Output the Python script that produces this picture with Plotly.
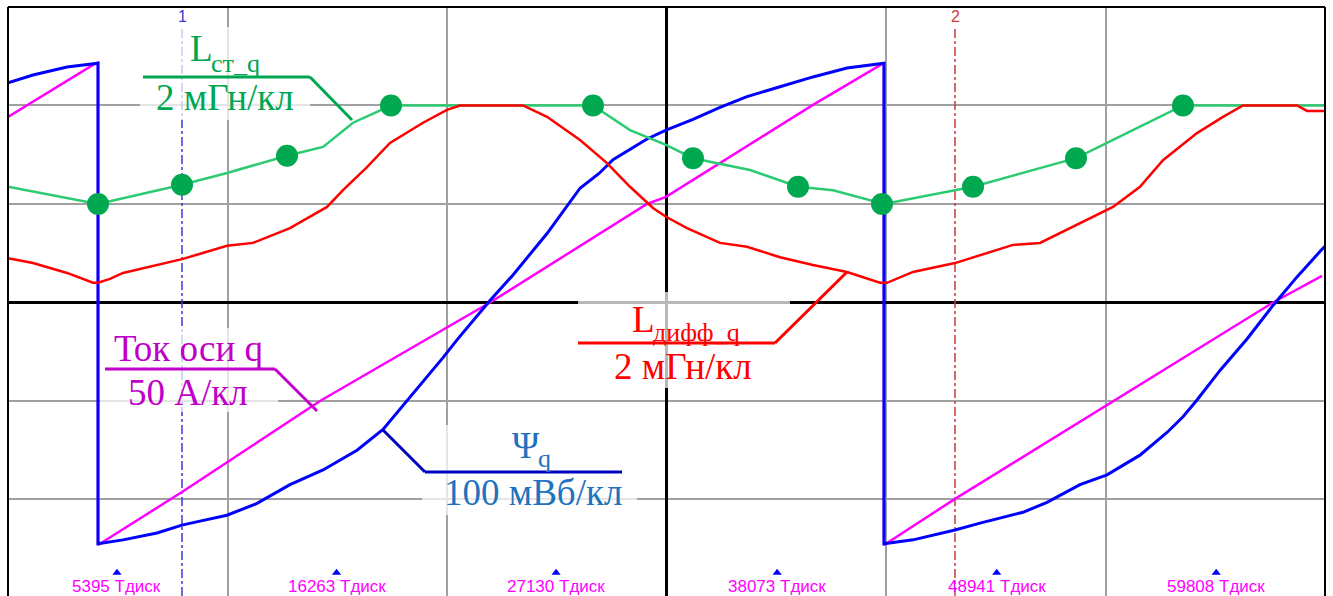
import plotly.graph_objects as go

# ---- time base: discretisation steps (Тдиск) ----
T_START, T_END = 0, 65192
DIVISIONS = 6

# ---- Ψq, flux linkage of axis q, mWb (100 мВб per division) ----
psi_t = [0, 1238, 2921, 4208, 4455, 4455,
         5693, 7376, 8613, 9504, 10841, 12326, 13959, 15593, 17276, 18563,
         19751, 20543, 21533, 22226, 23018, 23859, 24998, 26681, 28314, 29255, 29948,
         31631, 32571, 33908, 35244, 36581, 38214, 39848, 41531, 42818, 43362, 43362,
         44798, 46877, 48114, 50243, 51431, 53064, 54401, 56034, 57371, 58163,
         58856, 59994, 61331, 62618, 63806, 65043, 65192]
psi_v = [223, 231, 239, 243, 243, -245,
         -241, -234, -226, -222, -216, -204, -185, -170, -150, -129,
         -100, -80, -56, -38, -19, 2, 28, 70, 116, 131, 145,
         166, 175, 186, 198, 209, 219, 229, 238, 242, 243, -245,
         -241, -231, -224, -213, -203, -185, -175, -155, -132, -116,
         -99, -69, -37, -3, 26, 54, 57]

# ---- q-axis current, A (50 А per division) ----
iq_t = [0, 4208, 4455, 4455,
        8613, 15444, 23859, 31631, 32571, 39848, 43362, 43362,
        46877, 54698, 62618, 65043]
iq_v = [94.2, 120.6, 121.6, -123.1,
        -96.2, -50.0, 0.0, 50.0, 53.6, 100.3, 121.6, -123.1,
        -99.7, -50.0, 0.0, 13.5]

# ---- differential inductance L_diff_q, mH (2 мГн per division) ----
ld_t = [0, 1238, 2921, 4208,
        4455, 5049, 5693, 7376, 8613, 10841, 12128, 13959, 15791, 16583, 17771,
        18909, 20543, 21731, 22374, 25493, 26681, 28314, 29651, 30789, 31928,
        32571, 33611, 35244, 36581, 38214, 39848, 41531, 43164,
        43511, 44798, 46877, 49748, 51084, 53064, 54698, 56034, 57173, 58856,
        60143, 61133, 63806, 64301, 65192]
ld_v = [0.90, 0.80, 0.60, 0.40,
        0.40, 0.48, 0.60, 0.76, 0.88, 1.15, 1.21, 1.51, 1.94, 2.28, 2.75,
        3.24, 3.65, 3.91, 4.00, 4.00, 3.77, 3.30, 2.83, 2.35, 1.92,
        1.74, 1.51, 1.21, 1.13, 0.92, 0.76, 0.62, 0.40,
        0.40, 0.62, 0.80, 1.17, 1.21, 1.61, 1.94, 2.35, 2.89, 3.44,
        3.77, 4.00, 4.00, 3.89, 3.89]

# ---- static inductance L_st_q, mH (2 мГн per division) ----
ls_t = [0, 4059,
        4455, 8613, 10841, 13811, 15593, 17078, 18959, 28958, 30789, 32571,
        33908, 36729, 39105, 40838, 43263,
        43362, 47768, 52866, 54401, 58163, 65192]
ls_v = [2.35, 2.02,
        2.00, 2.39, 2.63, 2.98, 3.16, 3.65, 4.00, 4.00, 3.50, 3.20,
        2.93, 2.69, 2.35, 2.28, 2.00,
        2.00, 2.35, 2.93, 3.24, 4.00, 4.00]

# highlighted L_st_q points
ls_mark_t = [4455, 8613, 13811, 18959, 28958, 33908, 39105, 43263, 47768, 52866, 58163]
ls_mark_v = [2.00, 2.39, 2.98, 4.00, 4.00, 2.93, 2.35, 2.00, 2.35, 2.93, 4.00]

# ---- bottom time marks ----
tick_vals = [5395, 16263, 27130, 38073, 48941, 59808]
tick_text = [f"{v} Тдиск" for v in tick_vals]

# ---- cursors ----
cursor_t = [8613, 46877]
cursor_lbl = ["1", "2"]
cursor_col = ["#3a3acd", "#c83c3c"]

# channel scales (units per division)
SCALE_I, SCALE_PSI, SCALE_L = 50, 100, 2
Y_LO, Y_HI = -2.98, 3.0

GREEN_LINE = "#2ccb72"
GREEN_DOT = "#00a84f"
GREEN_TXT = "#00a650"
RED = "#ff0000"
MAGENTA = "#ff00ff"
PURPLE = "#c000c8"
BLUE = "#0000ff"
PSI_TXT = "#1e72be"
PSI_LEAD = "#0000c0"

fig = go.Figure()

fig.add_trace(go.Scatter(x=ls_t, y=ls_v, yaxis="y4", mode="lines",
                         line=dict(color=GREEN_LINE, width=2.5), hoverinfo="skip"))
fig.add_trace(go.Scatter(x=ld_t, y=ld_v, yaxis="y4", mode="lines",
                         line=dict(color=RED, width=2.5), hoverinfo="skip"))
fig.add_trace(go.Scatter(x=iq_t, y=iq_v, yaxis="y2", mode="lines",
                         line=dict(color=MAGENTA, width=2.5), hoverinfo="skip"))
fig.add_trace(go.Scatter(x=psi_t, y=psi_v, yaxis="y3", mode="lines",
                         line=dict(color=BLUE, width=3), hoverinfo="skip"))
fig.add_trace(go.Scatter(x=ls_mark_t, y=ls_mark_v, yaxis="y4", mode="markers",
                         marker=dict(color=GREEN_DOT, size=22), hoverinfo="skip"))
# small markers above the time labels
fig.add_trace(go.Scatter(x=tick_vals, y=[-2.745] * len(tick_vals), mode="markers",
                         marker=dict(symbol="triangle-up", color="#0000ff", size=8),
                         hoverinfo="skip"))

shapes = []
# centre vertical axis
x_mid = (T_START + T_END) / 2
shapes.append(dict(type="line", xref="x", yref="y", x0=x_mid, x1=x_mid, y0=Y_LO, y1=Y_HI,
                   line=dict(color="black", width=3), layer="between"))
# cursors
for ct, cc in zip(cursor_t, cursor_col):
    shapes.append(dict(type="line", xref="x", yref="y", x0=ct, x1=ct, y0=Y_LO, y1=2.8,
                       line=dict(color=cc, width=1.5, dash="dashdot"), layer="between"))
# translucent panels behind the channel captions
for x0, x1, y0, y1 in [(6534, 14949, 1.853, 2.797),
                       (28215, 38709, -0.868, 0.107),
                       (4554, 13365, -1.112, -0.259),
                       (20493, 31136, -2.157, -1.244)]:
    shapes.append(dict(type="rect", xref="x", yref="y", x0=x0, x1=x1, y0=y0, y1=y1,
                       fillcolor="rgba(255,255,255,0.72)", line=dict(width=0),
                       layer="between"))
# caption leader lines
for pts, col in [([(6683, 2.289), (14949, 2.289), (17028, 1.853)], GREEN_TXT),
                 ([(28215, -0.411), (37967, -0.411), (41531, 0.310)], RED),
                 ([(4802, -0.675), (13217, -0.675), (15296, -1.102)], PURPLE),
                 ([(18563, -1.294), (20642, -1.721), (30393, -1.721)], PSI_LEAD)]:
    for (xa, ya), (xb, yb) in zip(pts[:-1], pts[1:]):
        shapes.append(dict(type="line", xref="x", yref="y", x0=xa, y0=ya, x1=xb, y1=yb,
                           line=dict(color=col, width=3), layer="above"))
# frame (left, top, right)
for x0, y0, x1, y1 in [(0, 0, 0, 1), (0, 1, 1, 1), (1, 0, 1, 1)]:
    shapes.append(dict(type="line", xref="paper", yref="paper", x0=x0, y0=y0, x1=x1, y1=y1,
                       line=dict(color="black", width=2), layer="above"))

SERIF = "Liberation Serif"
FS = 37
FS_SUB = 26
ann = []


def text(x, y, s, color, size, xanchor="center", family=SERIF, xshift=0):
    ann.append(dict(x=x, y=y, xref="x", yref="y", text=s, showarrow=False,
                    font=dict(family=family, size=size, color=color),
                    xanchor=xanchor, yanchor="middle", borderpad=0, xshift=xshift))


def symbol_with_index(x_join, y_main, y_sub, main, sub, color):
    # main letter ends at x_join, the index starts right after it, lowered
    text(x_join, y_main, main, color, FS, xanchor="right", xshift=1)
    text(x_join, y_sub, sub, color, FS_SUB, xanchor="left", xshift=-3)


symbol_with_index(10148, 2.574, 2.430, "L", "ст_q", GREEN_TXT)
text(10742, 2.086, "2 мГн/кл", GREEN_TXT, FS)
symbol_with_index(32027, -0.168, -0.300, "L", "дифф_q", RED)
text(33413, -0.645, "2 мГн/кл", RED, FS)
text(8910, -0.472, "Ток оси q", PURPLE, FS)
text(8910, -0.909, "50 А/кл", PURPLE, FS)
symbol_with_index(26334, -1.452, -1.585, "Ψ", "q", PSI_TXT)
text(25988, -1.934, "100 мВб/кл", PSI_TXT, FS)

for v, t in zip(tick_vals, tick_text):
    ann.append(dict(x=v, y=Y_LO, xref="x", yref="y", text=t, showarrow=False,
                    font=dict(family="Liberation Sans", size=17, color="#ff00ff"),
                    xanchor="center", yanchor="bottom", borderpad=0, yshift=-1))
for ct, cl, cc in zip(cursor_t, cursor_lbl, cursor_col):
    ann.append(dict(x=ct, y=2.9, xref="x", yref="y", text=cl, showarrow=False,
                    font=dict(family="Liberation Sans", size=16, color=cc),
                    xanchor="center", yanchor="middle"))

div_x = (T_END - T_START) / DIVISIONS
fig.update_layout(
    width=1333, height=596,
    margin=dict(l=8, r=8, t=7, b=0),
    paper_bgcolor="white", plot_bgcolor="white",
    showlegend=False,
    xaxis=dict(range=[T_START, T_END], tick0=T_START, dtick=div_x, showgrid=True,
               gridcolor="#a0a0a0", gridwidth=2, showticklabels=False, zeroline=False,
               ticks="", fixedrange=True),
    yaxis=dict(range=[Y_LO, Y_HI], tick0=0, dtick=1, showgrid=True, gridcolor="#a0a0a0",
               gridwidth=2, zeroline=True, zerolinecolor="black", zerolinewidth=3,
               showticklabels=False, ticks="", fixedrange=True),
    yaxis2=dict(range=[Y_LO * SCALE_I, Y_HI * SCALE_I], overlaying="y", visible=False),
    yaxis3=dict(range=[Y_LO * SCALE_PSI, Y_HI * SCALE_PSI], overlaying="y", visible=False),
    yaxis4=dict(range=[Y_LO * SCALE_L, Y_HI * SCALE_L], overlaying="y", visible=False),
    shapes=shapes,
    annotations=ann,
)

fig.write_html("out.html", config={"displayModeBar": False})
